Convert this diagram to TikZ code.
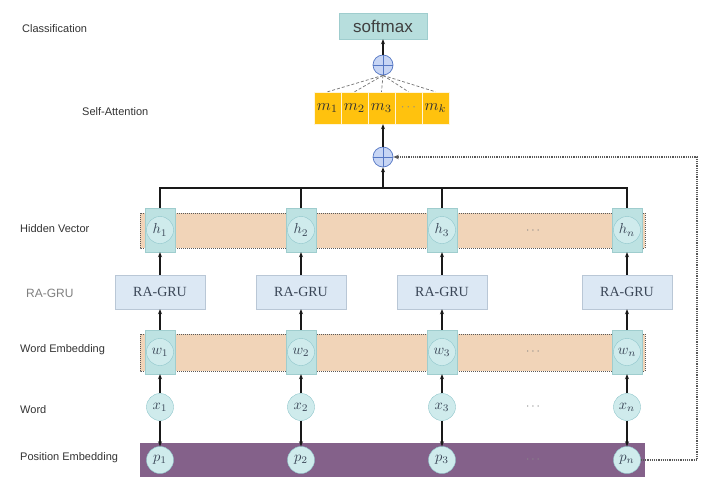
\documentclass[tikz,border=0pt]{standalone}
\usepackage{graphicx}
\usepackage{fontspec}
\setmainfont{Liberation Serif}
\newfontfamily\arialf{Liberation Sans}
\usetikzlibrary{arrows.meta}
\newcommand{\mvar}[2]{\scalebox{1.45}{$#1_{#2}$}}
\newcommand{\mvarb}[2]{\scalebox{1.6}{$#1_{#2}$}}
\definecolor{tealbox}{HTML}{BDE2E2}
\definecolor{tealedge}{HTML}{9FCDCE}
\definecolor{circfill}{HTML}{CFEBEC}
\definecolor{circedge}{HTML}{8FC6CB}
\definecolor{bandtan}{HTML}{F1D4B8}
\definecolor{bandpurple}{HTML}{84618A}
\definecolor{gruFill}{HTML}{DCE8F4}
\definecolor{gruEdge}{HTML}{B9C7D6}
\definecolor{gruText}{HTML}{3A4657}
\definecolor{mFill}{HTML}{FFC20E}
\definecolor{opFill}{HTML}{C7D5F4}
\definecolor{opEdge}{HTML}{5577C4}
\definecolor{smFill}{HTML}{B7DEDD}
\definecolor{lblText}{HTML}{333333}
\tikzset{
  lbl/.style={font=\arialf\fontsize{11}{12}\selectfont, text=lblText, anchor=west, inner sep=0pt},
  vecbox/.style={draw=tealedge, fill=tealbox, minimum width=30pt, minimum height=44pt, inner sep=0pt},
  veccirc/.style={circle, draw=circedge, fill=circfill, minimum size=27pt, inner sep=0pt, text=gruText},
  grubox/.style={draw=gruEdge, fill=gruFill, minimum width=90pt, minimum height=34pt, inner sep=0pt, font=\fontsize{14}{14}\selectfont, text=gruText},
  mcell/.style={draw=white!85!mFill, fill=mFill, minimum width=27pt, minimum height=32pt, inner sep=0pt, text=black!80},
  opnode/.style={circle, draw=opEdge, fill=opFill, minimum size=20pt, inner sep=0pt, line width=0.7pt},
  arr/.style={-{Stealth[length=5pt,width=4pt]}, line width=1.1pt, draw=black!90},
  plain/.style={line width=1.1pt, draw=black!90},
  fbline/.style={densely dotted, line width=1.2pt, draw=black!65},
  fan/.style={densely dashed, line width=0.7pt, draw=black!55},
  dotsnode/.style={inner sep=0pt, text=black!50},
  bandedge/.style={densely dotted, line width=1pt, draw=black!65},
}
\begin{document}
\begin{tikzpicture}[x=1pt,y=-1pt]
\useasboundingbox[fill=white] (0,0) rectangle (709,477);

% left labels
\node[lbl] (lcls) at (22,29) {Classification};
\node[lbl] (lsa) at (82,112) {Self-Attention};
\node[lbl] (lhv) at (20,229) {Hidden Vector};
\node[lbl, font=\arialf\fontsize{12}{13}\selectfont, text=black!50] (lgru) at (26,293) {RA-GRU};
\node[lbl] (lwe) at (20,350) {Word Embedding};
\node[lbl] (lw) at (20,410) {Word};
\node[lbl] (lpe) at (20,458) {Position Embedding};

% bands
\fill[bandtan] (140,213) rectangle (645,248);
\draw[bandedge] (140,213) rectangle (645,248);
\fill[bandtan] (140,334) rectangle (645,371);
\draw[bandedge] (140,334) rectangle (645,371);
\fill[bandpurple] (140,443) rectangle (645,477);

% columns
\foreach \i/\x/\s in {1/160/1, 2/301/2, 3/442/3, 4/627/n}{
  \node[vecbox] (hb\i) at (\x,230) {};
  \node[veccirc] (h\i) at (\x,230) {\mvar{h}{\s}};
  \node[grubox] (g\i) at (\x,292) {RA-GRU};
  \node[vecbox] (wb\i) at (\x,352) {};
  \node[veccirc] (w\i) at (\x,352) {\mvar{w}{\s}};
  \node[veccirc] (x\i) at (\x,407) {\mvar{x}{\s}};
  \node[veccirc] (p\i) at (\x,460) {\mvar{p}{\s}};
}

% dots
\node[dotsnode] (d1) at (533,231) {\scalebox{1.2}{$\cdots$}};
\node[dotsnode] (d2) at (533,352) {\scalebox{1.2}{$\cdots$}};
\node[dotsnode] (d3) at (533,407) {\scalebox{1.2}{$\cdots$}};
\node[dotsnode, text=black!45] (d4) at (533,460) {\scalebox{1.2}{$\cdots$}};

% vertical arrows
\foreach \i in {1,2,3,4}{
  \draw[arr] (g\i.north) -- (hb\i.south);
  \draw[arr] (wb\i.north) -- (g\i.south);
  \draw[arr] (x\i.north) -- (wb\i.south);
  \draw[arr] (x\i.south) -- (p\i.north);
}

% attention part
\node[opnode] (op2) at (383,157) {};
\draw[opEdge, line width=0.7pt] (op2.north) -- (op2.south) (op2.west) -- (op2.east);
\node[opnode] (op1) at (383,65) {};
\draw[opEdge, line width=0.7pt] (op1.north) -- (op1.south) (op1.west) -- (op1.east);

\node[mcell] (m1) at (327.5,108) {\mvarb{m}{1}};
\node[mcell] (m2) at (354.5,108) {\mvarb{m}{2}};
\node[mcell] (m3) at (381.5,108) {\mvarb{m}{3}};
\node[mcell] (m4) at (408.5,108) {\color{black!45}\scalebox{1.3}{$\cdots$}};
\node[mcell] (m5) at (435.5,108) {\mvarb{m}{k}};

\node[draw=tealedge, fill=smFill, minimum width=88pt, minimum height=26pt, inner sep=0pt,
      font=\arialf\fontsize{17}{17}\selectfont, text=black!75] (sm) at (383,26) {softmax};

% bus
\coordinate (bus1) at (160,188);
\coordinate (bus4) at (627,188);
\coordinate (busc) at (383,188);
\draw[plain] (hb1.north) -- (bus1) -- (bus4) -- (hb4.north);
\draw[plain] (hb2.north) -- (hb2.north |- bus1);
\draw[plain] (hb3.north) -- (hb3.north |- bus1);
\draw[arr] (busc) -- (op2.south);
\draw[arr] (op2.north) -- (op2.north |- m3.south);
\draw[arr] (op1.north) -- (sm.south);
\foreach \i in {1,...,5}{
  \draw[fan] (op1.south) -- (m\i.north);
}

% feedback
\coordinate (fb) at (697,460);
\draw[fbline, -{Stealth[length=5.5pt,width=4.5pt]}] (p4.east) -- (fb) |- (op2.east);
\end{tikzpicture}
\end{document}
